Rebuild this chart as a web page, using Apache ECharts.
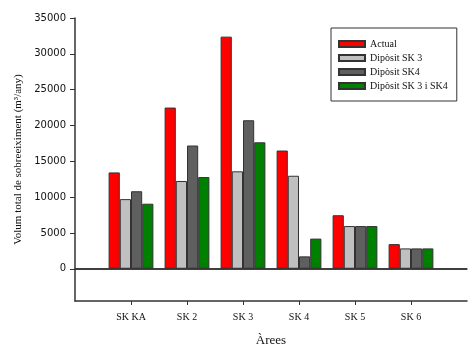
<!DOCTYPE html>
<html>
<head>
<meta charset="utf-8">
<script src="https://cdn.jsdelivr.net/npm/echarts@6/dist/echarts.min.js"></script>
<style>html,body{margin:0;padding:0;background:#fff}#c{width:470px;height:352px}</style>
</head>
<body>
<div id="c"></div>
<script>
const categories = ['SK KA', 'SK 2', 'SK 3', 'SK 4', 'SK 5', 'SK 6'];
const seriesNames = ['Actual', 'Dipòsit SK 3', 'Dipòsit SK4', 'Dipòsit SK 3 i SK4'];
const actual   = [13450, 22500, 32400, 16500, 7470, 3440];
const sk3      = [9720, 12250, 13600, 12980, 5960, 2840];
const sk4      = [10820, 17200, 20730, 1730, 5960, 2840];
const sk3sk4   = [9080, 12800, 17650, 4210, 5960, 2840];
const yTicks = [0, 5000, 10000, 15000, 20000, 25000, 30000, 35000];
const colors = ['#ff0000', '#c0c0c0', '#5f5f5f', '#008000'];

const axisCats = [''].concat(categories, ['']);
const pad = arr => ['-'].concat(arr, ['-']);
const allData = [actual, sk3, sk4, sk3sk4];

const chart = echarts.init(document.getElementById('c'), null, {renderer: 'canvas'});
const series = allData.map((d, i) => ({
  name: seriesNames[i],
  type: 'bar',
  data: pad(d),
  barGap: '0%',
  barCategoryGap: '20%',
  itemStyle: {color: colors[i], borderColor: '#333', borderWidth: 1},
  emphasis: {disabled: true},
  animation: false
}));
series[0].markLine = {
  silent: true, symbol: ['none', 'none'], label: {show: false},
  lineStyle: {color: '#333', type: 'solid', width: 1.5},
  data: [{yAxis: 0}], animation: false
};

chart.setOption({
  animation: false,
  grid: {left: 75, right: 0, top: 18, bottom: 45},
  legend: {
    orient: 'vertical', left: 331, top: 28,
    padding: [10, 9, 9, 7],
    borderColor: '#333', borderWidth: 1,
    itemWidth: 26, itemHeight: 6, itemGap: 2,
    icon: 'rect',
    textStyle: {fontFamily: 'Liberation Serif', fontSize: 10, lineHeight: 12, color: '#111'},
    data: seriesNames
  },
  xAxis: [{
    type: 'category', data: axisCats, boundaryGap: false,
    axisLine: {show: true, onZero: false, lineStyle: {color: '#333', width: 1.5}},
    axisTick: {show: true, length: 4, inside: false, interval: (i) => i > 0 && i < axisCats.length - 1, lineStyle: {color: '#333'}},
    axisLabel: {interval: 0, margin: 11, fontFamily: 'Liberation Serif', fontSize: 10, color: '#111'},
    name: 'Àrees', nameLocation: 'middle', nameGap: 33,
    nameTextStyle: {fontFamily: 'Liberation Serif', fontSize: 13, color: '#111'}
  }, {
    type: 'category', position: 'top', data: axisCats, boundaryGap: false,
    axisLine: {show: true, lineStyle: {color: '#333', width: 1.5}},
    axisTick: {show: false}, axisLabel: {show: false}
  }],
  yAxis: {
    type: 'value', min: -4500, max: 35000, minInterval: 5000, maxInterval: 5000, splitNumber: 8,
    splitLine: {show: false},
    axisLine: {show: true, lineStyle: {color: '#333', width: 1.5}},
    axisTick: {show: true, length: 5, customValues: yTicks, lineStyle: {color: '#333'}},
    axisLabel: {margin: 9, fontFamily: 'DejaVu Sans', fontSize: 10, color: '#111', customValues: yTicks,
      formatter: v => String(v)},
    name: 'Volum total de sobreeiximent (m³/any)', nameLocation: 'middle', nameGap: 50, nameRotate: 90,
    nameTextStyle: {fontFamily: 'Liberation Serif', fontSize: 11, color: '#111'}
  },
  series: series
});
</script>
</body>
</html>
